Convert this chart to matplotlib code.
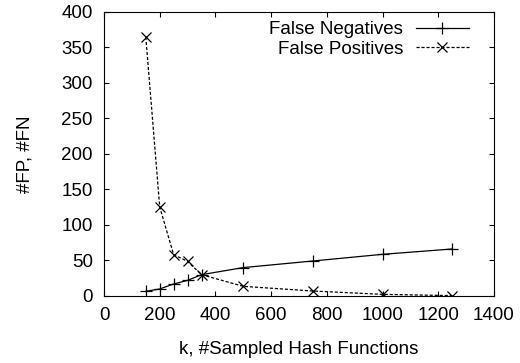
import matplotlib
matplotlib.use("Agg")
import matplotlib.pyplot as plt

k_values = [150, 200, 250, 300, 350, 500, 750, 1000, 1250]
false_negatives = [6.6, 9.9, 16.9, 22, 30, 40, 49.3, 58.7, 66.2]
false_positives = [364.8, 125.4, 58.2, 48.8, 30, 13.6, 7, 2.3, 0.5]
x_ticks = [0, 200, 400, 600, 800, 1000, 1200, 1400]
y_ticks = [0, 50, 100, 150, 200, 250, 300, 350, 400]

FS = 13.5
plt.rcParams['font.family'] = ['Liberation Sans', 'DejaVu Sans']
fig = plt.figure(figsize=(5.2, 3.63), dpi=100)
ax = fig.add_axes([0.2, 0.1846, 0.75, 0.7824])

ax.plot(k_values, false_negatives, color='black', linewidth=0.9, marker='+',
        markersize=8, markeredgewidth=0.9, label='False Negatives')
ax.plot(k_values, false_positives, color='black', linewidth=0.9, linestyle=(0, (2.5, 1.5)),
        marker='x', markersize=7, markeredgewidth=0.9, label='False Positives')

ax.set_xlim(0, 1400)
ax.set_ylim(0, 400)
ax.set_xticks(x_ticks)
ax.set_yticks(y_ticks)
ax.tick_params(direction='in', top=True, right=True, length=3.6, width=0.8,
               labelsize=FS, pad=8)
for s in ax.spines.values():
    s.set_linewidth(0.8)
ax.set_xlabel('k, #Sampled Hash Functions', fontsize=FS, labelpad=12)
ax.set_ylabel('#FP, #FN', fontsize=FS, labelpad=20)

leg = ax.legend(loc='upper right', bbox_to_anchor=(0.935, 0.967), frameon=False,
                markerfirst=False, fontsize=FS, handlelength=2.8, borderaxespad=0,
                labelspacing=0.12, handletextpad=0.7, borderpad=0)
for t in leg.get_texts():
    t.set_ha('right')
leg._legend_box.align = 'right'

fig.savefig('out.png', dpi=100)
